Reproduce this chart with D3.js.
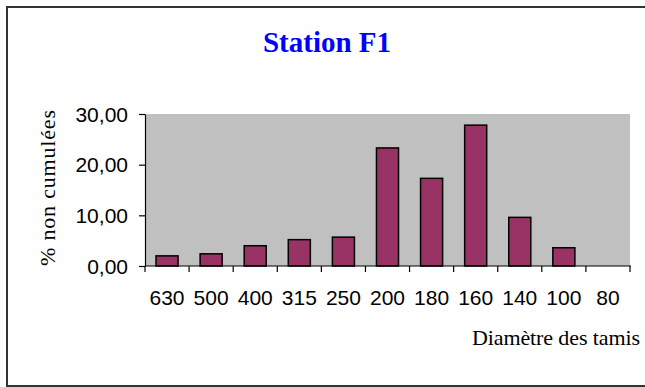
<!DOCTYPE html>
<html>
<head>
<meta charset="utf-8">
<script src="https://cdn.jsdelivr.net/npm/d3@7"></script>
<style>
  html, body { margin: 0; padding: 0; background: #fff; }
  svg { display: block; }
</style>
</head>
<body>
<svg id="chart" width="645" height="387"></svg>
<script>
const categories = ["630", "500", "400", "315", "250", "200", "180", "160", "140", "100", "80"];
const values = [2.0, 2.4, 4.0, 5.2, 5.7, 23.3, 17.3, 27.8, 9.6, 3.6, 0];
const yTicks = [0, 10, 20, 30];
const titleText = "Station F1";
const yTitle = "% non cumulées";
const xTitle = "Diamètre des tamis";

const svg = d3.select("#chart");
const plot = { left: 145, right: 630, top: 114, bottom: 266 };

// outer chart border (right edge cropped)
svg.append("rect")
  .attr("x", 7).attr("y", 7).attr("width", 720).attr("height", 379)
  .attr("fill", "#fff").attr("stroke", "#333").attr("stroke-width", 2);

const x = d3.scaleBand().domain(categories).range([plot.left, plot.right]).padding(0);
const y = d3.scaleLinear().domain([0, 30]).range([plot.bottom, plot.top]);

// plot area
svg.append("rect")
  .attr("x", plot.left).attr("y", plot.top)
  .attr("width", plot.right - plot.left).attr("height", plot.bottom - plot.top)
  .attr("fill", "#C0C0C0");

// bars
const bw = x.bandwidth() * 0.5;
svg.append("g").selectAll("rect").data(categories).join("rect")
  .attr("x", (d) => x(d) + (x.bandwidth() - bw) / 2)
  .attr("y", (d, i) => y(values[i]))
  .attr("width", bw)
  .attr("height", (d, i) => y(0) - y(values[i]))
  .attr("fill", "#993366")
  .attr("stroke", "#000")
  .attr("stroke-width", 1.5)
  .attr("display", (d, i) => values[i] > 0 ? null : "none");

// y axis
const loc = d3.formatLocale({ decimal: ",", thousands: " ", grouping: [3], currency: ["", ""] });
const fmt = loc.format(".2f");
const yAxis = svg.append("g")
  .attr("transform", `translate(${plot.left},0)`)
  .call(d3.axisLeft(y).tickValues(yTicks).tickFormat(fmt).tickSize(6).tickPadding(11).tickSizeOuter(0));
yAxis.select(".domain").attr("stroke", "#000").attr("stroke-width", 1.2);
yAxis.selectAll(".tick line").attr("stroke", "#000").attr("stroke-width", 1.2);
yAxis.selectAll(".tick text")
  .attr("font-family", "'Liberation Sans', Arial, sans-serif")
  .attr("font-size", 21).attr("fill", "#000").attr("dy", "0.34em");

// x axis line and boundary ticks
const xAxis = svg.append("g").attr("transform", `translate(0,${plot.bottom})`);
xAxis.append("line")
  .attr("x1", plot.left).attr("x2", plot.right + 1)
  .attr("y1", 0).attr("y2", 0)
  .attr("stroke", "#000").attr("stroke-width", 1.2);
const boundaries = categories.map((c) => x(c)).concat([x(categories[categories.length - 1]) + x.bandwidth()]);
xAxis.selectAll("line.tk").data(boundaries).join("line")
  .attr("class", "tk")
  .attr("x1", (d) => d).attr("x2", (d) => d)
  .attr("y1", 0).attr("y2", 6)
  .attr("stroke", "#000").attr("stroke-width", 1.2);
xAxis.selectAll("text").data(categories).join("text")
  .attr("x", (d) => x(d) + x.bandwidth() / 2)
  .attr("y", 39)
  .attr("text-anchor", "middle")
  .attr("font-family", "'Liberation Sans', Arial, sans-serif")
  .attr("font-size", 21).attr("fill", "#000")
  .text((d) => d);

// title
svg.append("text")
  .attr("x", 327).attr("y", 52)
  .attr("text-anchor", "middle")
  .attr("font-family", "'Liberation Serif', 'Times New Roman', serif")
  .attr("font-weight", "bold")
  .attr("font-size", 29)
  .attr("fill", "#0000FF")
  .text(titleText);

// y title
svg.append("text")
  .attr("transform", "translate(55,188) rotate(-90)")
  .attr("text-anchor", "middle")
  .attr("font-family", "'Liberation Serif', 'Times New Roman', serif")
  .attr("font-size", 22)
  .attr("textLength", 156)
  .attr("lengthAdjust", "spacing")
  .attr("fill", "#000")
  .text(yTitle);

// x title
svg.append("text")
  .attr("x", 472).attr("y", 345)
  .attr("font-family", "'Liberation Serif', 'Times New Roman', serif")
  .attr("font-size", 22)
  .attr("textLength", 168)
  .attr("lengthAdjust", "spacing")
  .attr("fill", "#000")
  .text(xTitle);
</script>
</body>
</html>
